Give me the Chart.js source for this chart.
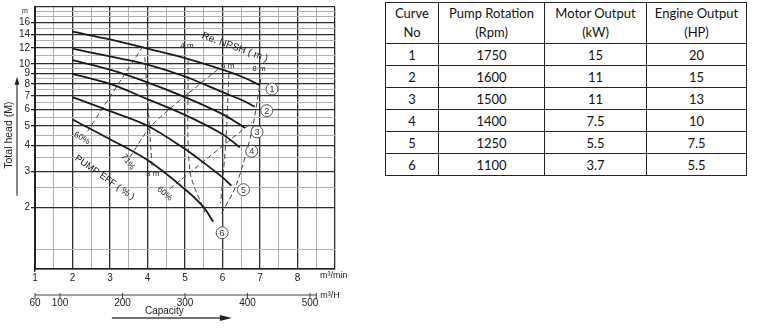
<!DOCTYPE html>
<html>
<head>
<meta charset="utf-8">
<script src="https://cdn.jsdelivr.net/npm/chart.js@4.4.1/dist/chart.umd.min.js"></script>
<style>
  body { margin: 0; background: #fff; width: 759px; height: 335px; position: relative; overflow: hidden; }
  #pumpChart { position: absolute; left: 0; top: 0; }
  table.spec { position: absolute; left: 385px; top: 2px; border-collapse: collapse;
    font-family: Lato, "Open Sans", sans-serif; font-size: 13px; color: #111; }
  table.spec th, table.spec td { border: 1px solid #222; text-align: center; font-weight: normal; padding: 0; }
  table.spec th { height: 40px; line-height: 19px; }
  table.spec td { height: 21px; }
</style>
</head>
<body>
<canvas id="pumpChart" width="380" height="335"></canvas>
<table class="spec">
  <colgroup><col style="width:53px"><col style="width:106px"><col style="width:102px"><col style="width:100px"></colgroup>
  <thead>
    <tr><th>Curve<br>No</th><th>Pump Rotation<br>(Rpm)</th><th>Motor Output<br>(kW)</th><th>Engine Output<br>(HP)</th></tr>
  </thead>
  <tbody id="specRows"></tbody>
</table>
<script>
// performance table
const curveNo = [1, 2, 3, 4, 5, 6];
const pumpRpm = [1750, 1600, 1500, 1400, 1250, 1100];
const motorKw = ["15", "11", "11", "7.5", "5.5", "3.7"];
const engineHp = ["20", "15", "13", "10", "7.5", "5.5"];

// head-capacity curves (capacity m3/min, head m)
const flow1 = [2, 3, 4, 5, 6, 6.5, 7];
const head1 = [14.4, 13.2, 11.9, 10.7, 9.4, 8.7, 7.9];
const flow2 = [2, 3, 4, 5, 6, 6.5, 6.86];
const head2 = [11.9, 10.9, 9.95, 8.7, 7.3, 6.7, 6.2];
const flow3 = [2, 3, 4, 5, 6, 6.6];
const head3 = [10.45, 9.4, 8.15, 6.9, 5.7, 4.88];
const flow4 = [2, 3, 4, 5, 6, 6.46];
const head4 = [8.95, 8.0, 6.75, 5.65, 4.55, 3.93];
const flow5 = [2, 3, 4, 5, 5.5, 6, 6.24];
const head5 = [6.9, 5.9, 5.0, 3.85, 3.3, 2.8, 2.55];
const flow6 = [2, 3, 4, 5, 5.5, 5.75];
const head6 = [5.37, 4.3, 3.4, 2.45, 2.0, 1.7];

// efficiency lines
const eff60aFlow = [2.4, 3.85];
const eff60aHead = [4.7, 12.0];
const eff71Flow = [3.53, 4.14, 5.88];
const eff71Head = [3.52, 5.08, 9.46];
const eff60bFlow = [4.6, 6.78];
const eff60bHead = [2.47, 5.19];

// required NPSH lines
const npsh3Flow = [3.93, 4.12];
const npsh3Head = [10.8, 3.19];
const npsh4Flow = [5.08, 5.13, 5.53];
const npsh4Head = [10.45, 3.02, 1.89];
const npsh6Flow = [6.17, 6.09, 5.95];
const npsh6Head = [8.95, 4.21, 2.1];
const npsh8Flow = [7.02, 6.78, 6.36, 5.96];
const npsh8Head = [8.47, 4.7, 2.55, 1.85];

// axes
const flowTicks = [1, 1.5, 2, 2.5, 3, 3.5, 4, 4.5, 5, 5.5, 6, 6.5, 7, 7.5, 8, 8.5, 9];
const flowLabels = [1, 2, 3, 4, 5, 6, 7, 8];
const headTicks = [1, 1.25, 2, 2.5, 3, 3.5, 4, 4.5, 5, 5.5, 6, 6.5, 7, 7.5, 8, 8.5, 9, 9.5, 10, 11, 12, 13, 14, 15, 16, 17, 18, 19];
const headLabels = [2, 3, 4, 5, 6, 7, 8, 9, 10, 12, 14, 16];
const hourTicks = [60, 100, 200, 300, 400, 500];

const tbody = document.getElementById("specRows");
curveNo.forEach((n, i) => {
  const tr = document.createElement("tr");
  tr.innerHTML = `<td>${n}</td><td>${pumpRpm[i]}</td><td>${motorKw[i]}</td><td>${engineHp[i]}</td>`;
  tbody.appendChild(tr);
});

const FONT = '"Liberation Sans", Arial, sans-serif';
const pts = (xs, ys) => xs.map((v, i) => ({ x: v, y: ys[i] }));

const hqCurves = [[flow1, head1], [flow2, head2], [flow3, head3], [flow4, head4], [flow5, head5], [flow6, head6]];
const dashLines = [
  [eff60aFlow, eff60aHead], [eff71Flow, eff71Head], [eff60bFlow, eff60bHead],
  [npsh3Flow, npsh3Head], [npsh4Flow, npsh4Head], [npsh6Flow, npsh6Head], [npsh8Flow, npsh8Head]
];

const datasets = [];
hqCurves.forEach(([f, h]) => {
  datasets.push({ data: pts(f, h), showLine: true, borderColor: "#1a1a1a", borderWidth: 1.8,
    pointRadius: 0, tension: 0.35, fill: false });
});
dashLines.forEach(([f, h]) => {
  datasets.push({ data: pts(f, h), showLine: true, borderColor: "#444", borderWidth: 1,
    borderDash: [5, 3], pointRadius: 0, tension: 0.3, fill: false });
});

function rotText(ctx, txt, px, py, deg, size) {
  ctx.save();
  ctx.translate(px, py);
  ctx.rotate(deg * Math.PI / 180);
  ctx.font = size + "px " + FONT;
  ctx.textAlign = "center";
  ctx.textBaseline = "middle";
  ctx.fillText(txt, 0, 0);
  ctx.restore();
}

const whiteBg = {
  id: "whiteBg",
  beforeDraw(chart) {
    const c = chart.ctx;
    c.save();
    c.fillStyle = "#fff";
    c.fillRect(0, 0, chart.width, chart.height);
    c.restore();
  }
};

const annotate = {
  id: "annotate",
  afterDatasetsDraw(chart) {
    const { ctx, scales: { x, y }, chartArea } = chart;
    ctx.save();
    ctx.fillStyle = "#222";
    ctx.strokeStyle = "#222";

    // curve numbers
    hqCurves.forEach(([f, h], i) => {
      const last = f.length - 1;
      const px = x.getPixelForValue(f[last]) + (i === 5 ? 9 : 12);
      const py = y.getPixelForValue(h[last]) + (i === 5 ? 11 : 4);
      ctx.beginPath();
      ctx.arc(px, py, 6, 0, Math.PI * 2);
      ctx.fillStyle = "#fff";
      ctx.fill();
      ctx.lineWidth = 0.9;
      ctx.strokeStyle = "#444";
      ctx.stroke();
      ctx.fillStyle = "#333";
      rotText(ctx, String(curveNo[i]), px, py + 0.5, 0, 9);
    });

    ctx.fillStyle = "#222";
    const at = (fx, hy) => [x.getPixelForValue(fx), y.getPixelForValue(hy)];
    let p;
    p = at(6.33, 12.08); rotText(ctx, "Re. NPSH ( m )", p[0], p[1], 20, 10);
    p = at(2.86, 2.79); rotText(ctx, "PUMP EFF ( % )", p[0], p[1], 35, 9.5);
    p = at(2.25, 4.35); rotText(ctx, "60%", p[0], p[1], 30, 8.5);
    p = at(3.48, 3.33); rotText(ctx, "71%", p[0], p[1], 55, 8.5);
    p = at(4.46, 2.33); rotText(ctx, "60%", p[0], p[1], 40, 8.5);
    p = at(4.14, 2.92); rotText(ctx, "3 m", p[0], p[1], 0, 8);
    p = at(5.05, 12.35); rotText(ctx, "4 m", p[0], p[1], 0, 8);
    p = at(6.14, 9.78); rotText(ctx, "6 m", p[0], p[1], 0, 8);
    p = at(6.97, 9.46); rotText(ctx, "8 m", p[0], p[1], 0, 8);

    // unit marks
    ctx.font = "7px " + FONT;
    ctx.textAlign = "center";
    ctx.textBaseline = "middle";
    ctx.fillText("m", chartArea.left - 10, chartArea.top + 4);
    ctx.font = "9px " + FONT;
    ctx.textAlign = "left";
    ctx.fillText("m\u00B3/min", x.getPixelForValue(9) - 15, chartArea.bottom + 7);

    // y title with arrow
    const yTop = y.getPixelForValue(8.4), yBot = y.getPixelForValue(2.28);
    ctx.lineWidth = 1.3;
    ctx.beginPath();
    ctx.moveTo(17, yBot);
    ctx.lineTo(17, yTop + 4);
    ctx.stroke();
    ctx.beginPath();
    ctx.moveTo(17, yTop - 3);
    ctx.lineTo(14.5, yTop + 5);
    ctx.lineTo(19.5, yTop + 5);
    ctx.closePath();
    ctx.fill();
    rotText(ctx, "Total head (M)", 9, y.getPixelForValue(4.5), -90, 10.5);

    // m3/H axis
    const hy = chartArea.bottom + 26;
    const toPx = (q) => x.getPixelForValue(q / 60);
    ctx.lineWidth = 1.2;
    ctx.beginPath();
    ctx.moveTo(toPx(60), hy);
    ctx.lineTo(toPx(510), hy);
    ctx.stroke();
    ctx.lineWidth = 1;
    hourTicks.concat([510]).forEach((q) => {
      ctx.beginPath();
      ctx.moveTo(toPx(q), hy - 2);
      ctx.lineTo(toPx(q), hy + 4);
      ctx.stroke();
    });
    hourTicks.forEach((q) => rotText(ctx, String(q), toPx(q), hy + 8, 0, 10));
    ctx.font = "9px " + FONT;
    ctx.textAlign = "left";
    ctx.textBaseline = "middle";
    ctx.fillText("m\u00B3/H", toPx(510) + 4, hy + 1);

    // capacity arrow
    rotText(ctx, "Capacity", x.getPixelForValue(4.45), hy + 16, 0, 10);
    const ax0 = x.getPixelForValue(3.05), ax1 = x.getPixelForValue(6.25), ay = hy + 23;
    ctx.lineWidth = 1.3;
    ctx.beginPath();
    ctx.moveTo(ax0, ay);
    ctx.lineTo(ax1 - 8, ay);
    ctx.stroke();
    ctx.beginPath();
    ctx.moveTo(ax1, ay);
    ctx.lineTo(ax1 - 12, ay - 3);
    ctx.lineTo(ax1 - 12, ay + 3);
    ctx.closePath();
    ctx.fill();
    ctx.restore();
  }
};

new Chart(document.getElementById("pumpChart"), {
  type: "scatter",
  data: { datasets },
  options: {
    responsive: false,
    animation: false,
    layout: { padding: { top: 5, right: 45, left: 0, bottom: 0 } },
    plugins: { legend: { display: false }, tooltip: { enabled: false } },
    scales: {
      x: {
        type: "linear", min: 1, max: 9,
        afterBuildTicks: (s) => { s.ticks = flowTicks.map((v) => ({ value: v })); },
        afterFit: (s) => { s.height = 66; },
        ticks: {
          autoSkip: false, maxRotation: 0, padding: 0, color: "#222",
          font: { family: FONT, size: 10 },
          callback: (v) => (flowLabels.includes(v) ? String(v) : "")
        },
        grid: {
          color: (c) => (c.tick && Number.isInteger(c.tick.value) ? "#2e2e2e" : "#b0b0b0"),
          lineWidth: (c) => (c.tick && Number.isInteger(c.tick.value) ? 1.3 : 1),
          tickLength: 3,
          tickColor: (c) => (c.tick && c.tick.value === 1 ? "#222" : "rgba(0,0,0,0)")
        },
        border: { color: "#222", width: 1.6 }
      },
      y: {
        type: "logarithmic", min: 1, max: 19,
        afterBuildTicks: (s) => { s.ticks = headTicks.map((v) => ({ value: v })); },
        afterFit: (s) => { s.width = 35; },
        ticks: {
          autoSkip: false, padding: 1, color: "#222",
          font: { family: FONT, size: 10 },
          callback: (v) => (headLabels.includes(v) ? String(v) : "")
        },
        grid: {
          color: (c) => (c.tick && (headLabels.includes(c.tick.value) || c.tick.value === 19) ? "#2e2e2e" : "#b0b0b0"),
          lineWidth: (c) => (c.tick && (headLabels.includes(c.tick.value) || c.tick.value === 19) ? 1.3 : 1),
          tickLength: 4,
          tickColor: (c) => (c.tick && headLabels.includes(c.tick.value) ? "#222" : "rgba(0,0,0,0)")
        },
        border: { color: "#222", width: 2 }
      }
    }
  },
  plugins: [whiteBg, annotate]
});
</script>
</body>
</html>
